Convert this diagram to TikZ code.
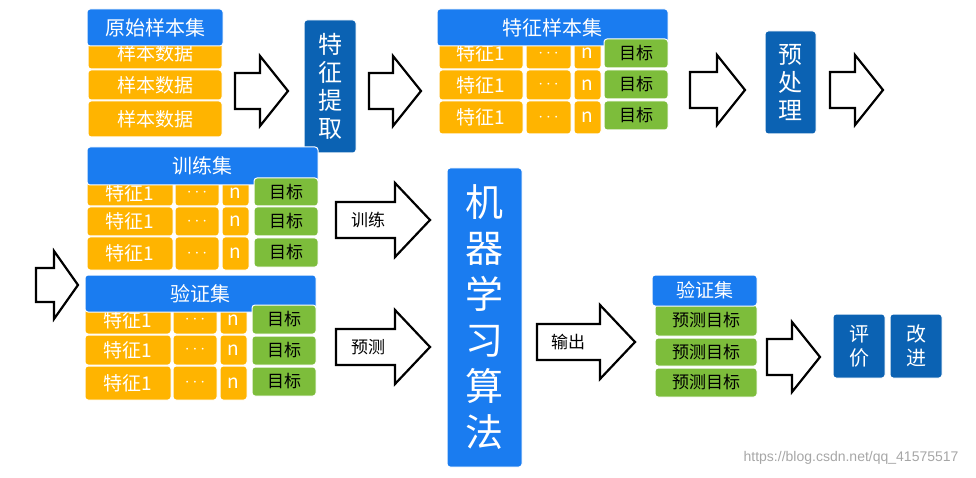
\documentclass[tikz,border=0pt]{standalone}
\usepackage{fontspec}
\setmainfont{Noto Sans CJK SC}
\newfontfamily\wm{Liberation Sans}
\definecolor{hb}{HTML}{1A7CF0}
\definecolor{db}{HTML}{0B62B3}
\definecolor{og}{HTML}{FFB400}
\definecolor{gr}{HTML}{7DBD3B}
\begin{document}
\begin{tikzpicture}[x=1pt,y=-1pt,
  cell/.style={rounded corners=3pt,inner sep=0pt,draw=white,line width=1pt,text=white},
  hd/.style={cell,fill=hb,font=\fontsize{20}{20}\selectfont},
  ob/.style={cell,fill=og,font=\fontsize{19}{19}\selectfont},
  gb/.style={cell,fill=gr,text=black,font=\fontsize{17}{17}\selectfont},
  dk/.style={cell,fill=db,font=\fontsize{24}{28}\selectfont,align=center},
  harr/.style={draw=black,line width=2.2pt,fill=white,line join=miter}]
\newcommand\bx[7]{\node[#6,minimum width={(#4-#2)*1pt},minimum height={(#5-#3)*1pt}] (#1) at ({(#2+#4)/2},{(#3+#5)/2}) {#7};}
% arrow: x1, x2, yc, half breadth, half shaft, head length
\newcommand\harrow[6]{\draw[harr] (#1,#3-#5) -- (#2-#6,#3-#5) -- (#2-#6,#3-#4) -- (#2,#3) -- (#2-#6,#3+#4) -- (#2-#6,#3+#5) -- (#1,#3+#5) -- cycle;}
\useasboundingbox (0,0) rectangle (976,478);
% original samples
\bx{s1}{88}{38}{222}{69}{ob}{样本数据}
\bx{s2}{88}{70}{222}{100}{ob}{样本数据}
\bx{s3}{88}{101}{222}{137}{ob}{样本数据}
\bx{h1}{87}{9}{223}{46}{hd}{原始样本集}
\harrow{235}{288}{91}{35}{18}{28}
\bx{fe}{304}{20}{356}{153}{dk}{特\\征\\提\\取}
\harrow{369}{421}{91}{35}{18}{28}
% feature sample set
\foreach \r/\a/\b in {1/38/69,2/70/100,3/101/134}{
  \bx{f\r a}{439}{\a}{523}{\b}{ob}{特征1}
  \bx{f\r b}{526}{\a}{571}{\b}{ob}{$\cdots$}
  \bx{f\r c}{574}{\a}{601}{\b}{ob}{n}
}
\bx{h2}{437}{9}{668}{46}{hd}{特征样本集}
\bx{f1d}{604}{39}{668}{68}{gb}{目标}
\bx{f2d}{604}{70}{668}{99}{gb}{目标}
\bx{f3d}{604}{101}{668}{130}{gb}{目标}
\harrow{690}{745}{90}{35}{18}{28}
\bx{pp}{765}{31}{816}{134}{dk}{预\\处\\理}
\harrow{830}{883}{90}{35}{18}{28}
% training set
\foreach \r/\a/\b in {1/180/206,2/207/236,3/237/270}{
  \bx{t\r a}{87}{\a}{173}{\b}{ob}{特征1}
  \bx{t\r b}{175}{\a}{219}{\b}{ob}{$\cdots$}
  \bx{t\r c}{222}{\a}{249}{\b}{ob}{n}
}
\bx{h3}{87}{147}{318}{185}{hd}{训练集}
\bx{t1d}{254}{178}{318}{206}{gb}{目标}
\bx{t2d}{254}{207}{318}{236}{gb}{目标}
\bx{t3d}{254}{238}{318}{267}{gb}{目标}
% validation set
\foreach \r/\a/\b in {1/306/334,2/335/365,3/366/400}{
  \bx{v\r a}{85}{\a}{171}{\b}{ob}{特征1}
  \bx{v\r b}{173}{\a}{217}{\b}{ob}{$\cdots$}
  \bx{v\r c}{220}{\a}{247}{\b}{ob}{n}
}
\bx{h4}{85}{275}{316}{312}{hd}{验证集}
\bx{v1d}{252}{305}{316}{334}{gb}{目标}
\bx{v2d}{252}{336}{316}{365}{gb}{目标}
\bx{v3d}{252}{367}{316}{396}{gb}{目标}
\harrow{36}{78}{285}{34}{17}{24}
\harrow{336}{430}{220}{37}{18}{35}
\node[font=\fontsize{17}{17}\selectfont] (lt) at (368,220) {训练};
\harrow{336}{430}{347}{37}{18}{35}
\node[font=\fontsize{17}{17}\selectfont] (lp) at (368,347) {预测};
% ML
\bx{ml}{447}{168}{522}{467}{dk,fill=hb,font=\fontsize{38}{46}\selectfont}{机\\器\\学\\习\\算\\法}
\harrow{537}{635}{342}{37}{18}{35}
\node[font=\fontsize{17}{17}\selectfont] (lo) at (568,342) {输出};
% small validation
\bx{p1}{655}{305}{757}{336}{gb}{预测目标}
\bx{p2}{655}{338}{757}{366}{gb}{预测目标}
\bx{p3}{655}{368}{757}{397}{gb}{预测目标}
\bx{h5}{652}{275}{757}{306}{hd,font=\fontsize{19}{19}\selectfont}{验证集}
\harrow{767}{820}{357}{35}{18}{28}
\bx{ev}{833}{314}{885}{378}{dk,font=\fontsize{20}{24}\selectfont}{评\\价}
\bx{im}{890}{314}{942}{378}{dk,font=\fontsize{20}{24}\selectfont}{改\\进}
\node[text=gray!70,font=\wm\fontsize{14}{14}\selectfont,anchor=east] (wm) at (962,458) {https://blog.csdn.net/qq\_41575517};
\end{tikzpicture}
\end{document}
